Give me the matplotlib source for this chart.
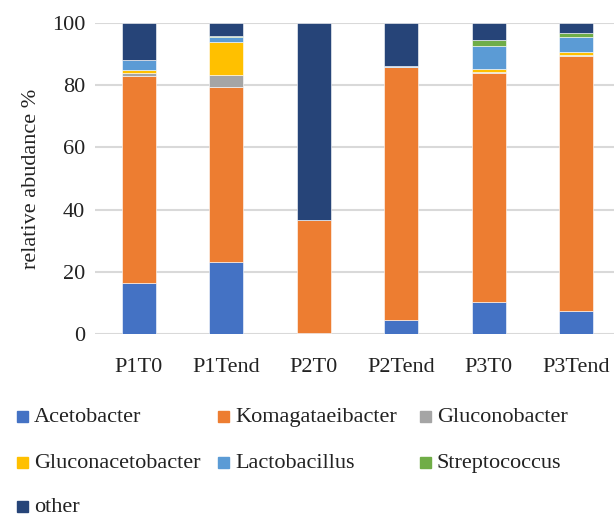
import numpy as np
import matplotlib.pyplot as plt
from matplotlib.patches import Rectangle

# relative abundance (%) per sample
samples = ["P1T0", "P1Tend", "P2T0", "P2Tend", "P3T0", "P3Tend"]
acetobacter = [16.3, 23.1, 0.3, 4.4, 10.3, 7.4]
komagataeibacter = [66.8, 56.4, 36.2, 81.6, 73.7, 82.1]
gluconobacter = [0.8, 3.7, 0.0, 0.0, 0.3, 0.3]
gluconacetobacter = [1.0, 10.7, 0.0, 0.0, 0.8, 0.8]
lactobacillus = [3.1, 1.6, 0.0, 0.2, 7.6, 4.9]
streptococcus = [0.0, 0.2, 0.0, 0.0, 1.7, 1.2]
other = [12.0, 4.3, 63.5, 13.8, 5.6, 3.3]

series = [
    ("Acetobacter", acetobacter, "#4472C4"),
    ("Komagataeibacter", komagataeibacter, "#ED7D31"),
    ("Gluconobacter", gluconobacter, "#A5A5A5"),
    ("Gluconacetobacter", gluconacetobacter, "#FFC000"),
    ("Lactobacillus", lactobacillus, "#5B9BD5"),
    ("Streptococcus", streptococcus, "#70AD47"),
    ("other", other, "#264478"),
]

plt.rcParams['font.family'] = ['Liberation Serif', 'DejaVu Serif']
W, H = 614, 517

fig = plt.figure(figsize=(W / 100, H / 100), dpi=100)
ax = fig.add_axes([95 / W, 1 - 334 / H, (W - 95) / W, (334 - 23) / H])

x = np.arange(len(samples))
bottom = np.zeros(len(samples))
for name, vals, col in series:
    vals = np.array(vals)
    ax.bar(x, vals, 0.39, bottom=bottom, color=col, edgecolor="white",
           linewidth=0.4, label=name, zorder=3)
    bottom += vals

ax.set_xlim(-0.5, 5.43)
ax.set_ylim(0, 100)
ax.set_yticks([0, 20, 40, 60, 80, 100])
ax.set_xticks(x)
ax.set_xticklabels(samples)
ax.tick_params(length=0, labelsize=16, colors="#222222")
ax.tick_params(axis="y", pad=7)
ax.tick_params(axis="x", pad=17)
ax.yaxis.grid(True, color="#D9D9D9", linewidth=1.5, zorder=0)
for s in ax.spines.values():
    s.set_visible(False)
ax.set_ylabel("relative abudance %", fontsize=16, color="#222222", labelpad=8)

# legend laid out row by row, three per row
col_x = [17, 218, 420]
row_y = [422, 468, 512]   # baselines
for i, (name, vals, col) in enumerate(series):
    px = col_x[i % 3]
    py = row_y[i // 3]
    fig.patches.append(Rectangle((px / W, 1 - py / H), 11 / W, 11 / H,
                                 transform=fig.transFigure, color=col))
    fig.text((px + 17) / W, 1 - py / H, name, fontsize=16, color="#222222",
             va="baseline", ha="left")

fig.savefig("out.png", dpi=100)
